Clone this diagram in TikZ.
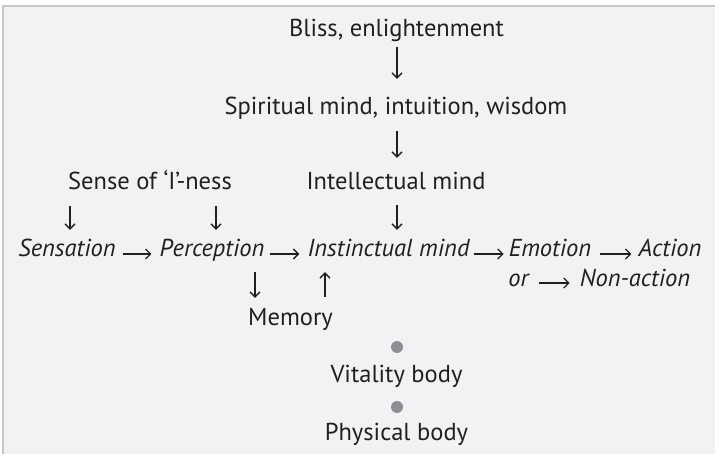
\documentclass[tikz,border=0pt]{standalone}
\usepackage{fontspec}
\setmainfont{PT Sans}
\usetikzlibrary{arrows.meta}
\definecolor{bg}{HTML}{F1F2F4}
\definecolor{frame}{HTML}{C6C7CB}
\definecolor{ink}{HTML}{231F20}
\definecolor{dotc}{HTML}{8E8F93}
\begin{document}
\begin{tikzpicture}[x=1pt,y=-1pt,
  lbl/.style={inner sep=0pt, anchor=base, text height=16pt, text depth=5pt,
              font=\fontsize{24.5}{28}\selectfont, text=ink},
  it/.style={lbl, font=\fontsize{24.5}{28}\selectfont\itshape},
  arr/.style={-{Straight Barb[length=5pt,width=10pt]}, line width=1.3pt, draw=ink},
  dot/.style={circle, fill=dotc, inner sep=0pt, minimum size=12pt}]
\useasboundingbox (0,0) rectangle (715,454);
\fill[white] (0,0) rectangle (715,454);
\fill[bg] (3,6) rectangle (715,454);
\draw[frame, line width=2pt] (3,454) -- (3,6) -- (715,6);

% top column
\node[lbl] (bliss)  at (396.5,37) {Bliss, enlightenment};
\node[lbl] (spirit) at (396,115)  {Spiritual mind, intuition, wisdom};
\node[lbl] (sense)  at (150,190)  {Sense of ‘I’-ness};
\node[lbl] (intel)  at (396,190)  {Intellectual mind};

% main row
\node[it] (sens)   at (67,257)    {Sensation};
\node[it] (perc)   at (212,257)   {Perception};
\node[it] (inst)   at (388.5,257) {Instinctual mind};
\node[it] (emo)    at (550,257)   {Emotion};
\node[it] (act)    at (670,257)   {Action};
\node[it] (or)     at (518.5,287) {or};
\node[it] (non)    at (635,287)   {Non-action};

% lower column
\node[lbl] (mem)   at (290.5,326) {Memory};
\node[dot] (d1)    at (397,347)   {};
\node[lbl] (vit)   at (396.5,382) {Vitality body};
\node[dot] (d2)    at (397,407)   {};
\node[lbl] (phys)  at (396.5,440) {Physical body};

% x positions of off-centre vertical arrows
\coordinate (xa) at (70,0);
\coordinate (xb) at (216,0);
\coordinate (xc) at (255,0);
\coordinate (xd) at (325,0);
\coordinate (xe) at (397,0);

% vertical arrows
\draw[arr, shorten <=5pt, shorten >=20pt] (bliss.south -| xe) -- (spirit.north -| xe);
\draw[arr, shorten <=11pt, shorten >=16pt] (spirit.south -| xe) -- (intel.north -| xe);
\draw[arr, shorten <=10pt, shorten >=11pt] (intel.south -| xe) -- (inst.north -| xe);
\draw[arr, shorten <=11pt, shorten >=11pt] (sense.south -| xa) -- (sens.north -| xa);
\draw[arr, shorten <=11pt, shorten >=11pt] (sense.south -| xb) -- (perc.north -| xb);
\draw[arr, shorten <=10pt, shorten >=12pt] (perc.south -| xc) -- (mem.north -| xc);
\draw[arr, shorten <=13pt, shorten >=10pt] (mem.north -| xd) -- (inst.south -| xd);

% horizontal arrows
\draw[arr, shorten <=7pt, shorten >=8pt] ([yshift=3pt]sens.base east) -- ([yshift=3pt]perc.base west);
\draw[arr, shorten <=5pt, shorten >=8pt] ([yshift=3pt]perc.base east) -- ([yshift=3pt]inst.base west);
\draw[arr, shorten <=4pt, shorten >=5pt] ([yshift=3pt]inst.base east) -- ([yshift=3pt]emo.base west);
\draw[arr, shorten <=9pt, shorten >=7pt] ([yshift=3pt]emo.base east) -- ([yshift=3pt]act.base west);
\draw[arr, shorten <=10pt, shorten >=10pt] ([yshift=4pt]or.base east) -- ([yshift=4pt]non.base west);
\end{tikzpicture}
\end{document}
